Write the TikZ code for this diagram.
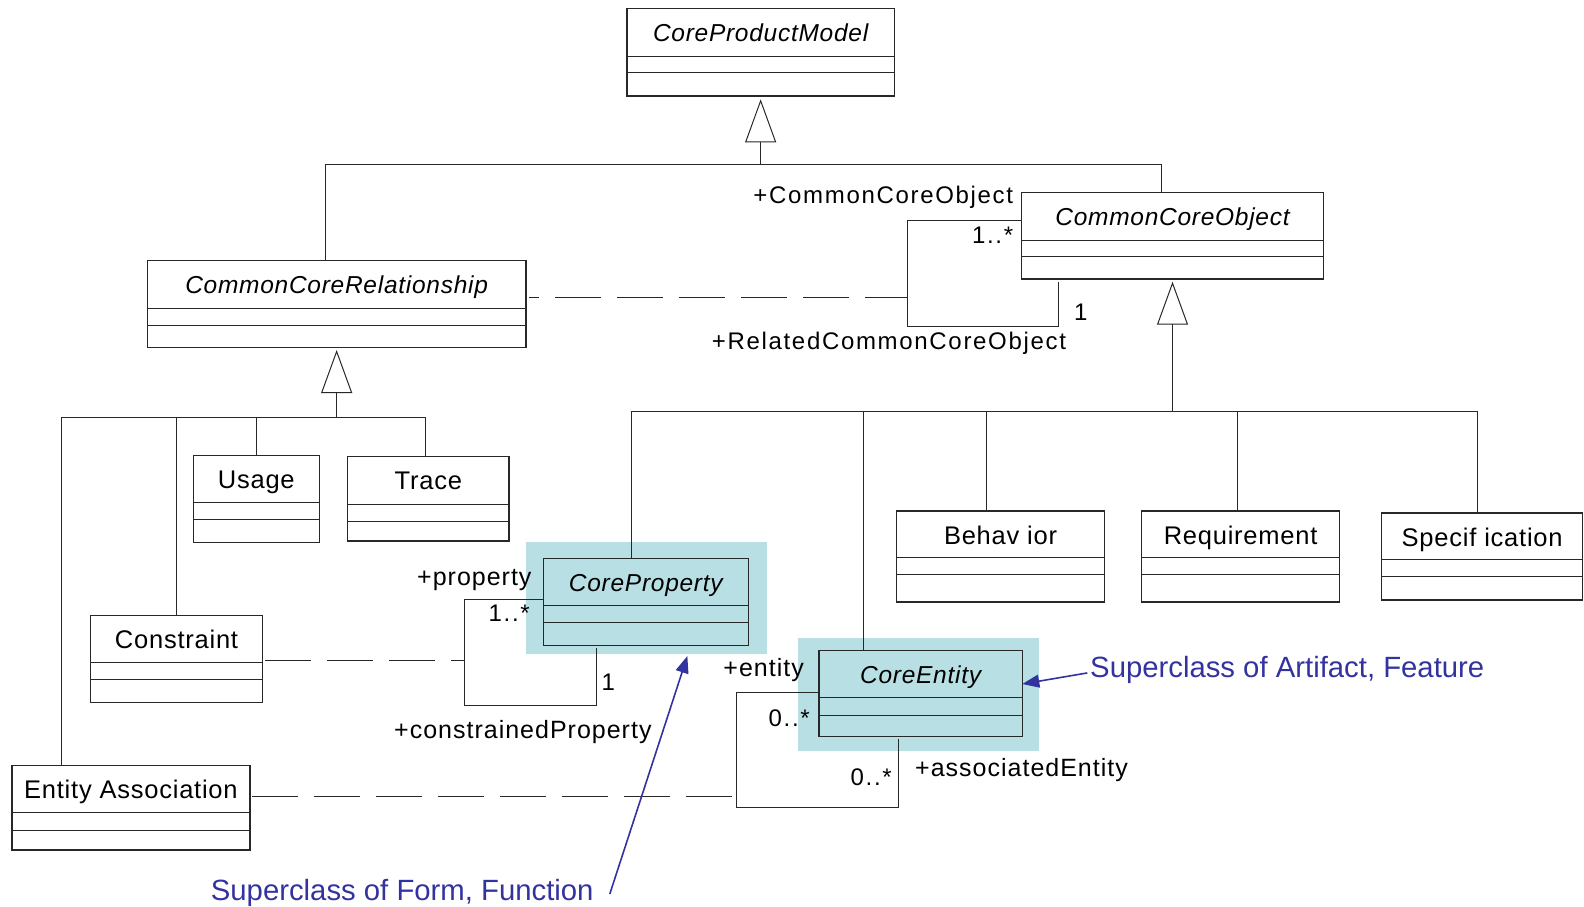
\documentclass[tikz,border=0pt]{standalone}
\usepackage{fontspec}
\setmainfont{Liberation Sans}[LetterSpace=3]
\newfontfamily\lblfont{Liberation Sans}[LetterSpace=4]
\newfontfamily\lblwide{Liberation Sans}[LetterSpace=7]
\newfontfamily\notefont{Liberation Sans}
\usetikzlibrary{arrows.meta}
\definecolor{hlcyan}{RGB}{184,223,227}
\definecolor{noteblue}{RGB}{51,51,160}
\definecolor{lineblk}{RGB}{40,40,40}
\tikzset{
  classbox/.style={draw=lineblk, line width=1.2pt, rectangle, inner sep=0pt, outer sep=0pt},
  divider/.style={draw=lineblk, line width=1pt},
  abstracttitle/.style={font=\fontsize{24.5}{28}\selectfont\itshape, anchor=base, inner sep=0pt},
  concretetitle/.style={font=\fontsize{25.5}{30}\selectfont, anchor=base, inner sep=0pt},
  conn/.style={draw=lineblk, line width=1pt},
  gen/.style={conn, -{Triangle[open, length=43pt, width=31pt]}},
  assocdash/.style={conn, dash pattern=on 46pt off 16pt},
  roleN/.style={font=\lblfont\fontsize{25}{29}\selectfont, inner sep=0pt},
  roleW/.style={font=\lblwide\fontsize{24}{28}\selectfont, inner sep=0pt},
  hlbox/.style={fill=hlcyan, inner sep=0pt, outer sep=0pt, rectangle},
  annot/.style={font=\notefont\fontsize{29.3}{34}\selectfont, text=noteblue, inner sep=0pt},
  annotarrow/.style={draw=noteblue, line width=1.6pt, -{Triangle[length=17pt,width=13pt]}},
}
\newcommand\umlbox[9]{%
  \pgfmathsetmacro\ubw{#4-#2}%
  \pgfmathsetmacro\ubh{#5-#3}%
  \pgfmathsetmacro\ubx{(#2+#4)/2}%
  \pgfmathsetmacro\uby{(#3+#5)/2}%
  \pgfmathsetmacro\ubt{#3+33}%
  \node[classbox, minimum width=\ubw pt, minimum height=\ubh pt] (#1) at (\ubx,\uby) {};
  \draw[divider] (#1.west |- 0,#6) -- (#1.east |- 0,#6);
  \draw[divider] (#1.west |- 0,#7) -- (#1.east |- 0,#7);
  \node[#9] (#1-title) at (\ubx,\ubt) {#8};
}
\begin{document}
\begin{tikzpicture}[x=1pt,y=-1pt]
\useasboundingbox (0,0) rectangle (1584,906);
% highlights
\node[hlbox, minimum width=240.7pt, minimum height=112pt] (cphl) at (646.35,598.3) {};
\node[hlbox, minimum width=241.3pt, minimum height=112.4pt] (cehl) at (918.35,694.5) {};
% classes
\umlbox{cpm}{627}{8.3}{894.3}{96}{56}{72.7}{CoreProductModel}{abstracttitle}
\umlbox{cco}{1021.7}{192.3}{1323.3}{279}{240}{256.7}{CommonCoreObject}{abstracttitle}
\umlbox{ccr}{147.3}{260.7}{526}{347.7}{308.3}{325}{CommonCoreRelationship}{abstracttitle}
\umlbox{usage}{193.3}{455.7}{319.3}{542.3}{502.7}{519.3}{Usage}{concretetitle}
\umlbox{trace}{347.7}{456.7}{509}{541}{504.3}{521}{Trace}{concretetitle}
\umlbox{cons}{90.7}{615.7}{262.3}{702.7}{662.3}{679.3}{Constraint}{concretetitle}
\umlbox{ea}{11.9}{765.7}{249.9}{850}{812.7}{830}{Entity Association}{concretetitle}
\umlbox{cp}{543.3}{558.3}{748.3}{645.7}{605.7}{622.7}{CoreProperty}{abstracttitle}
\umlbox{ce}{819}{650.7}{1022.3}{736.7}{697.7}{715}{CoreEntity}{abstracttitle}
\umlbox{beh}{896.6}{511}{1104.5}{602}{557.6}{574.8}{Behav ior}{concretetitle}
\umlbox{req}{1141.8}{511}{1339.4}{602}{557.6}{574.8}{Requirement}{concretetitle}
\umlbox{spec}{1381.6}{513}{1582.7}{600}{559.6}{576.8}{Specif ication}{concretetitle}
% top generalization
\coordinate (topbus) at (cpm.south |- 0,164.3);
\draw[conn] ([xshift=-11pt]ccr.north) |- (topbus) -| ([xshift=-11.5pt]cco.north);
\draw[gen] (topbus) -- ([yshift=-3.3pt]cpm.south);
% left generalization
\coordinate (lbus) at (ccr.south |- 0,417.7);
\draw[gen] (lbus) -- ([yshift=-2.3pt]ccr.south);
\coordinate (eatop) at ([xshift=-69.6pt]ea.north);
\coordinate (trtop) at ([xshift=-3.3pt]trace.north);
\draw[conn] (eatop) |- (trtop |- lbus) -- (trtop);
\draw[conn] (cons.north) -- (cons.north |- lbus);
\draw[conn] (usage.north) -- (usage.north |- lbus);
% right generalization
\coordinate (rbus) at (cco.south |- 0,411);
\draw[gen] (rbus) -- ([yshift=-2.7pt]cco.south);
\coordinate (cptop) at ([xshift=-14.8pt]cp.north);
\coordinate (cetop) at ([xshift=-56.7pt]ce.north);
\coordinate (behtop) at ([xshift=-14.2pt]beh.north);
\coordinate (reqtop) at ([xshift=-3.6pt]req.north);
\coordinate (spectop) at ([xshift=-5pt]spec.north);
\draw[conn] (cptop) |- (spectop |- rbus) -- (spectop);
\draw[conn] (cetop) -- (cetop |- rbus);
\draw[conn] (behtop) -- (behtop |- rbus);
\draw[conn] (reqtop) -- (reqtop |- rbus);
% CommonCoreObject self association
\draw[conn] (cco.west |- 0,220) -| (907.3,326) -| ([xshift=-114.2pt,yshift=-3.3pt]cco.south);
\coordinate (ccoA) at (907.3,297.3);
\coordinate (ccrR) at ([xshift=3pt]ccr.east);
\draw[assocdash, dash phase=36pt] (ccrR |- ccoA) -- (ccoA);
% CoreProperty self association
\draw[conn] (cp.west |- 0,599.3) -| (464,705.7) -| ([xshift=-49.1pt,yshift=-2.6pt]cp.south);
\coordinate (cpA) at (464,660.7);
\coordinate (consR) at ([xshift=2.7pt]cons.east);
\draw[assocdash] (consR |- cpA) -- (cpA);
% CoreEntity self association
\draw[conn] (ce.west |- 0,692.3) -| (736.7,807.7) -| ([xshift=-22.35pt,yshift=-2.3pt]ce.south);
\coordinate (ceA) at (736.7,796);
\coordinate (eaR) at ([xshift=2.4pt]ea.east);
\draw[assocdash] (eaR |- ceA) -- (ceA);
% role and multiplicity labels
\node[roleW, anchor=base east] (lblcco) at (1013.3,203.5) {+CommonCoreObject};
\node[roleW, anchor=base east] (mcco1) at (1013.3,243.3) {1..*};
\node[roleW, anchor=base west] (mcco2) at (1074,320) {1};
\node[roleW, anchor=base west] (lblrcco) at (711.7,349.5) {+RelatedCommonCoreObject};
\node[roleN, anchor=base east] (lblprop) at (531.7,585) {+property};
\node[roleW, anchor=base east] (mcp1) at (530,621.7) {1..*};
\node[roleW, anchor=base west] (mcp2) at (601.5,690) {1};
\node[roleN, anchor=base west] (lblcprop) at (394,738.3) {+constrainedProperty};
\node[roleN, anchor=base east] (lblent) at (804,676.7) {+entity};
\node[roleW, anchor=base east] (mce1) at (810,726.7) {0..*};
\node[roleW, anchor=base east] (mce2) at (892,785) {0..*};
\node[roleN, anchor=base west] (lblaent) at (915,776.7) {+associatedEntity};
% annotations
\node[annot, anchor=base west] (noteA) at (1090,677) {Superclass of Artifact, Feature};
\node[annot, anchor=base west] (noteB) at (210.7,900) {Superclass of Form, Function};
\draw[annotarrow] ([xshift=-2.7pt,yshift=-3.5pt]noteA.west) -- (ce.east |- 0,684);
\draw[annotarrow] ([xshift=16pt,yshift=6pt]noteB.base east) -- ([xshift=41pt,yshift=-1.7pt]cphl.south);
\end{tikzpicture}
\end{document}
